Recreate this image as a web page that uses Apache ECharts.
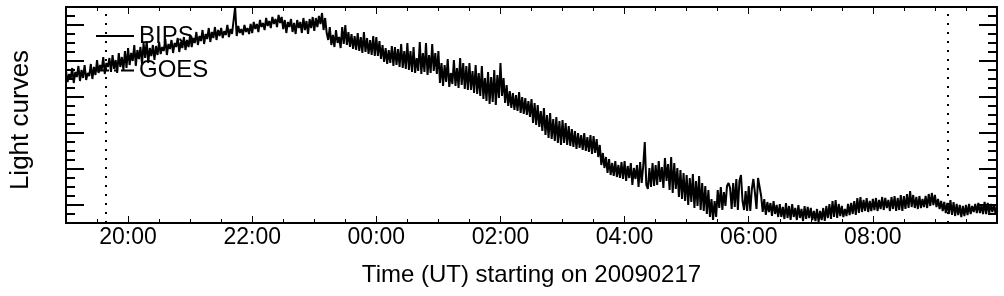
<!DOCTYPE html>
<html>
<head>
<meta charset="utf-8">
<script src="https://cdn.jsdelivr.net/npm/echarts@6/dist/echarts.min.js"></script>
<style>
html,body{margin:0;padding:0;background:#fff;}
#chart{width:1004px;height:296px;}
</style>
</head>
<body>
<div id="chart"></div>
<script>
// ---- data ----
const startHour = 19;      // 19:00 UT on 20090217
const stepHour = 0.025;    // 1.5-minute samples
const bipsValues = [
152,141,149,144,155,140,151,146,157,142,153,145,158,143,150,147,159,144,156,148,
163,150,158,153,166,149,160,156,165,151,168,154,163,150,170,156,166,153,172,155,
175,158,170,162,178,157,173,164,176,159,180,165,182,160,175,167,178,163,177,168,
181,169,176,172,184,168,179,174,183,170,180,176,185,171,181,175,186,173,183,176,
188,176,185,180,191,178,187,182,193,179,189,184,195,181,191,185,196,183,193,187,
195,185,192,188,198,186,194,189,190,216,187,197,190,194,188,198,191,195,189,199,
190,201,194,199,191,203,196,200,193,205,197,202,195,206,199,204,196,208,200,206,
194,203,190,201,196,204,191,200,189,203,195,201,190,205,193,202,189,204,195,206,
192,205,196,207,199,210,193,205,190,183,196,178,188,176,193,180,186,175,196,179,
198,178,191,176,189,174,187,173,190,172,186,170,191,171,185,169,183,168,187,167,
186,167,182,164,178,161,175,159,173,160,177,157,176,158,174,156,179,155,172,154,
180,153,172,151,176,150,165,152,181,149,170,151,180,148,168,150,179,152,170,149,
172,140,160,137,158,141,164,136,150,139,163,137,155,135,165,138,160,134,157,133,
160,133,152,130,158,129,150,127,157,124,145,122,151,119,146,121,153,118,148,125,
160,127,145,120,138,117,132,115,130,113,128,112,131,110,126,109,125,108,122,106,
124,100,120,98,118,96,112,92,115,88,108,85,110,84,104,82,106,80,102,78,
103,80,100,78,97,77,94,76,92,74,90,75,88,73,90,72,86,71,88,69,
87,70,84,66,78,58,70,55,66,50,64,48,60,47,62,46,58,45,61,44,
62,42,57,45,60,38,55,44,58,36,61,40,57,81,38,34,55,36,60,37,
58,38,62,41,56,35,65,42,59,33,66,30,60,34,55,26,53,24,50,22,
48,18,45,21,49,15,42,17,47,13,40,12,37,9,33,6,24,3,22,6,
33,15,36,13,31,17,37,40,35,14,40,16,44,13,42,48,22,13,32,12,
37,12,34,44,30,14,45,47,27,11,24,8,21,11,20,7,22,9,18,6,
19,6,16,4,20,5,17,3,19,6,15,3,18,5,14,2,17,4,16,5,
15,3,12,2,14,1,12,3,15,2,17,5,19,4,22,6,23,5,19,7,
17,6,14,7,19,8,20,9,22,8,25,10,26,11,23,12,25,11,22,12,
24,13,25,12,23,14,26,13,25,15,23,12,26,14,27,12,25,13,28,12,
27,14,29,15,32,16,28,15,26,14,27,15,24,16,27,15,29,17,30,18,
28,16,24,14,22,12,21,10,20,9,23,8,21,7,19,8,18,6,17,7,
18,8,19,9,17,11,19,10,20,10,18,9,21,9,20,10,19,11,18,10,18
];
const goesValues = [];
const seriesNames = ['BIPS', 'GOES'];
const xMin = 19, xMax = 34;              // hours since 20090217 00:00
const xMajorTicks = [20, 22, 24, 26, 28, 30, 32];
const xMinorInterval = 0.5;
const yMin = 0, yMax = 216;
const yMajorTicks = [18, 54, 90, 126, 162, 198];
const yMinorInterval = 9;
const eventTimes = [19.64, 33.2];
const xTitle = 'Time (UT) starting on 20090217';
const yTitle = 'Light curves';

// ---- chart ----
const FONT = 'Liberation Sans, Arial, Helvetica, sans-serif';
const bipsData = bipsValues.map((v, i) => [startHour + i * stepHour, v]);
const fmt = v => String(((v % 24) + 24) % 24).padStart(2, '0') + ':00';

function xAx(pos, major) {
  return {
    type: 'value', position: pos, min: xMin, max: xMax,
    interval: major ? undefined : xMinorInterval,
    axisLine: { show: true, onZero: false, lineStyle: { color: '#000', width: 2 } },
    axisTick: major
      ? { show: true, inside: true, length: 7, customValues: xMajorTicks, lineStyle: { color: '#000', width: 1 } }
      : { show: true, inside: true, length: 4, lineStyle: { color: '#000', width: 1 } },
    axisLabel: (major && pos === 'bottom')
      ? { show: true, customValues: xMajorTicks, formatter: fmt, color: '#000', fontSize: 23, fontFamily: FONT, margin: 3 }
      : { show: false },
    splitLine: { show: false }
  };
}
function yAx(pos, major) {
  return {
    type: 'value', position: pos, min: yMin, max: yMax,
    interval: major ? undefined : yMinorInterval,
    axisLine: { show: true, onZero: false, lineStyle: { color: '#000', width: 2 } },
    axisTick: major
      ? { show: true, inside: true, length: 18, customValues: yMajorTicks, lineStyle: { color: '#000', width: 2 } }
      : { show: true, inside: true, length: 9, lineStyle: { color: '#000', width: 2 } },
    axisLabel: { show: false },
    splitLine: { show: false }
  };
}

const xAxes = [xAx('bottom', true), xAx('bottom', false), xAx('top', true), xAx('top', false)];
xAxes[0].name = xTitle;
xAxes[0].nameLocation = 'middle';
xAxes[0].nameGap = 40;
xAxes[0].nameTextStyle = { color: '#000', fontSize: 24, fontFamily: FONT };

const yAxes = [yAx('left', true), yAx('left', false), yAx('right', true), yAx('right', false)];
yAxes[0].name = yTitle;
yAxes[0].nameLocation = 'middle';
yAxes[0].nameGap = 32;
yAxes[0].nameTextStyle = { color: '#000', fontSize: 26, fontFamily: FONT, padding: [0, 10, 0, 0] };

const chart = echarts.init(document.getElementById('chart'), null, { renderer: 'canvas' });
chart.setOption({
  animation: false,
  backgroundColor: '#fff',
  grid: { left: 62, right: 7, top: 7, bottom: 73, containLabel: false },
  xAxis: xAxes,
  yAxis: yAxes,
  legend: {
    show: true, orient: 'vertical', left: 95, top: 24, padding: 0,
    itemWidth: 38, itemHeight: 24, itemGap: 10.5,
    data: seriesNames,
    itemStyle: { opacity: 0 },
    lineStyle: { width: 2 },
    textStyle: { color: '#000', fontSize: 24, fontFamily: FONT, lineHeight: 24 }
  },
  series: [
    {
      name: seriesNames[0], type: 'line', data: bipsData,
      xAxisIndex: 0, yAxisIndex: 0, symbol: 'none', showSymbol: false,
      lineStyle: { color: '#000', width: 2 }, itemStyle: { color: '#000' },
      z: 3,
      markLine: {
        silent: true, symbol: ['none', 'none'], label: { show: false },
        lineStyle: { color: '#000', width: 2, type: [2, 7] },
        data: eventTimes.map(t => ({ xAxis: t }))
      }
    },
    {
      name: seriesNames[1], type: 'line', data: goesValues,
      xAxisIndex: 0, yAxisIndex: 0, symbol: 'none', showSymbol: false,
      lineStyle: { color: '#000', width: 1.5, type: [13, 5, 2, 5] }, itemStyle: { color: '#000' }
    }
  ]
});
</script>
</body>
</html>
